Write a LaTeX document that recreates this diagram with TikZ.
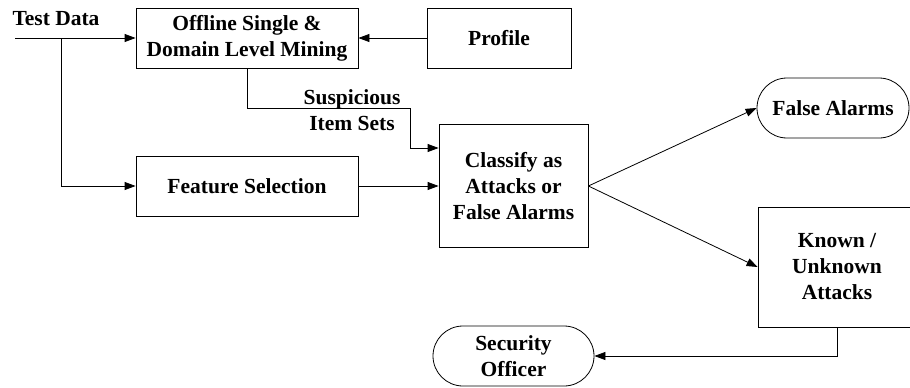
\documentclass[tikz,border=0pt]{standalone}
\usepackage{fontspec}
\setmainfont{Liberation Serif}
\usetikzlibrary{shapes.misc, arrows.meta, positioning}

\begin{document}
\begin{tikzpicture}[
    x=1pt, y=-1pt,
    font=\fontsize{21.5}{26}\selectfont\bfseries,
    box/.style={
        rectangle,
        draw=black,
        fill=white,
        line width=0.8pt,
        align=center,
        inner sep=0pt
    },
    terminal/.style={
        rounded rectangle,
        draw=black,
        fill=white,
        line width=0.8pt,
        align=center,
        inner sep=0pt,
        minimum height=60pt
    },
    arrow/.style={
        -{Triangle[length=11pt,width=8pt]},
        line width=0.8pt
    }
]

% frame of the picture
\useasboundingbox (0,0) rectangle (910,388);
\clip (0,0) rectangle (910,388);

% Input
\node (testdata) at (56,19) {Test Data};
\coordinate (tdstart) at (15,38);
\coordinate (tdsplit) at (61,38);

% Left column - mining and features
\node[box, minimum width=222pt, minimum height=60pt] (mining) at (247,38) {Offline Single \&\\Domain Level Mining};
\node[box, minimum width=144pt, minimum height=60pt] (profile) at (499,38) {Profile};
\node[box, minimum width=222pt, minimum height=60pt] (feature) at (247,186) {Feature Selection};

% Middle - classifier
\node[box, minimum width=149pt, minimum height=123pt] (classify) at (513.5,186) {Classify as\\Attacks or\\False Alarms};
\coordinate (suspbend) at (410,108);
\node[align=center] (susplabel) at (352,110) {Suspicious\\Item Sets};

% Right side - outcomes
\node[terminal, minimum width=152pt] (falsealarms) at (833,108) {False Alarms};
\node[box, minimum width=158pt, minimum height=120pt] (known) at (837,267) {Known /\\Unknown\\Attacks};
\node[terminal, minimum width=161pt] (officer) at (513.5,356) {Security\\Officer};

% Arrows
\draw[arrow] (tdstart) -- (mining.west);
\draw[arrow] (tdsplit) |- (feature.west);
\draw[arrow] (profile.west) -- (mining.east);
\draw[arrow] (mining.south) |- (suspbend) |- ([yshift=38pt]classify.west);
\draw[arrow] (feature.east) -- (classify.west);
\draw[arrow] (classify.east) -- (falsealarms.west);
\draw[arrow] (classify.east) -- (known.west);
\draw[arrow] (known.south) |- (officer.east);

\end{tikzpicture}
\end{document}
